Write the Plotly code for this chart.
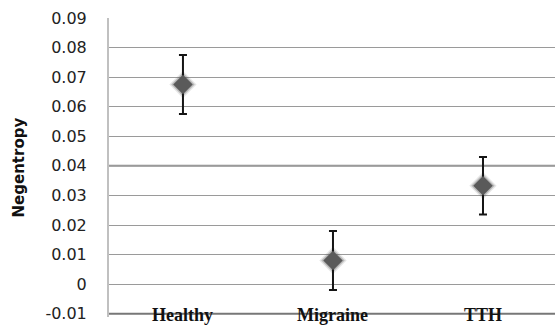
import plotly.graph_objects as go

categories = ["Healthy", "Migraine", "TTH"]
values = [0.0675, 0.008, 0.0333]
errors = [0.0100, 0.0100, 0.0097]
y_ticks = [-0.01, 0, 0.01, 0.02, 0.03, 0.04, 0.05, 0.06, 0.07, 0.08, 0.09]
y_tick_labels = ["-0.01", "0", "0.01", "0.02", "0.03", "0.04", "0.05", "0.06", "0.07", "0.08", "0.09"]
y_title = "Negentropy"

W, H = 555, 326
ML, MR, MT, MB = 109, 0, 18, 9
plot_w = W - ML - MR

fig = go.Figure()

# soft glow behind markers
for sz, col in [(21, "rgba(90,90,90,0.15)"), (18, "rgba(80,80,80,0.3)")]:
    fig.add_trace(go.Scatter(
        x=categories, y=values, mode="markers",
        marker=dict(symbol="diamond", size=sz, color=col, line=dict(width=0)),
        hoverinfo="skip", showlegend=False,
    ))
fig.add_trace(go.Scatter(
    x=categories, y=values, mode="markers",
    marker=dict(symbol="diamond", size=15, color="#5a5a5a", line=dict(width=0)),
    error_y=dict(type="data", array=errors, visible=True, color="#151515", thickness=2, width=4),
    showlegend=False,
))

# emphasized 0.04 grid line as in the reference
fig.add_shape(type="line", xref="paper", yref="y", x0=0, x1=1, y0=0.04, y1=0.04,
              line=dict(color="#8c8c8c", width=2), layer="below")

for c in categories:
    fig.add_annotation(x=c, y=-0.01, xref="x", yref="y", text=c, showarrow=False,
                       yanchor="middle", xanchor="center", yshift=-1,
                       font=dict(family="Liberation Serif", size=18, color="#111111", weight="bold"))

# bottom axis line crossing the category labels
fig.add_shape(type="line", xref="paper", yref="y", x0=0, x1=1, y0=-0.01, y1=-0.01,
              line=dict(color="#777777", width=2), layer="above")

fig.add_annotation(x=(18 - ML) / plot_w, y=0.5, xref="paper", yref="paper", text=y_title,
                   textangle=-90, showarrow=False, xanchor="center", yanchor="middle",
                   font=dict(family="DejaVu Sans", size=15, color="#111111", weight="bold"))

fig.update_layout(
    width=W, height=H,
    margin=dict(l=ML, r=MR, t=MT, b=MB, autoexpand=False),
    paper_bgcolor="white", plot_bgcolor="white",
    xaxis=dict(type="category", range=[-0.493, 2.48], showticklabels=False, ticks="",
               showgrid=False, zeroline=False, showline=False, automargin=False),
    yaxis=dict(range=[-0.0111, 0.09], tickvals=y_ticks, ticktext=y_tick_labels,
               showgrid=True, gridcolor="#9a9a9a", gridwidth=1, zeroline=False,
               showline=True, linecolor="#c0c0c0", linewidth=2, automargin=False,
               ticks="outside", ticklen=17, tickcolor="rgba(0,0,0,0)",
               tickfont=dict(family="DejaVu Sans", size=16, color="#222222")),
)

fig.write_html("out.html", config={"displayModeBar": False},
               post_script="document.body.style.margin='0';document.body.style.overflow='hidden';")
